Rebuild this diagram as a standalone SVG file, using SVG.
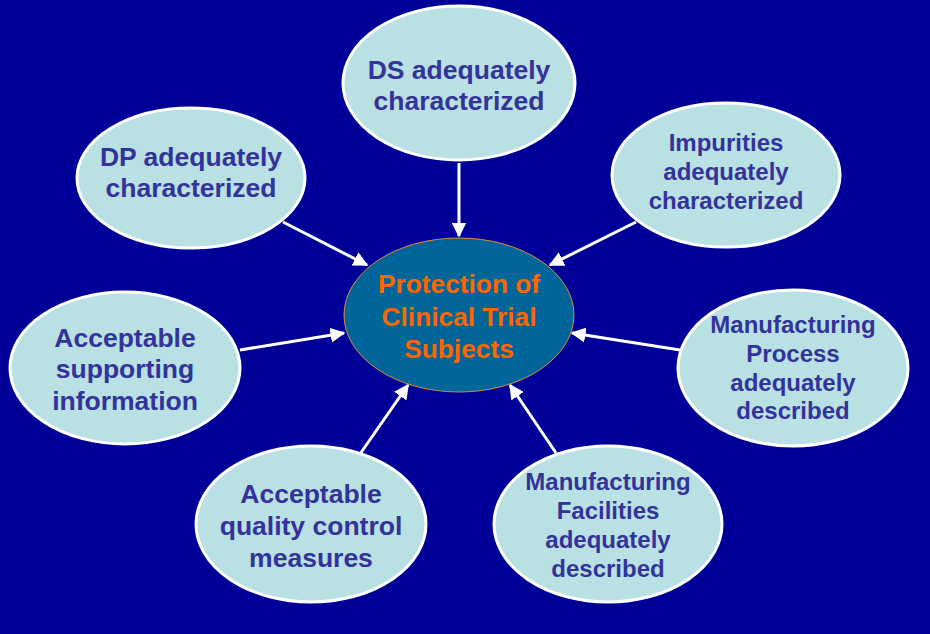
<svg xmlns="http://www.w3.org/2000/svg" width="930" height="634" viewBox="0 0 930 634">
<defs>
<style>
.n{fill:#B9E0E3;stroke:#FFFFFF;stroke-width:3}
.t{font-family:"Liberation Sans",Arial,sans-serif;font-weight:bold;fill:#333399;text-anchor:middle}
.L{font-size:26.5px}
.S{font-size:24px}
.c{fill:#006699;stroke:#E08A3C;stroke-width:1}
.ct{font-family:"Liberation Sans",Arial,sans-serif;font-weight:bold;fill:#FF6600;text-anchor:middle;font-size:26.3px}
.a{stroke:#FFFFFF;stroke-width:3;fill:none;marker-end:url(#ah)}
</style>
<marker id="ah" viewBox="0 0 10 10" refX="9" refY="5" markerWidth="5" markerHeight="5" orient="auto" markerUnits="strokeWidth">
<path d="M0,0 L10,5 L0,10 z" fill="#FFFFFF"/>
</marker>
</defs>
<rect width="930" height="634" fill="#000099"/>
<g id="connectors">
<line class="a" x1="459" y1="163" x2="459" y2="236"/>
<line class="a" x1="283" y1="222" x2="367" y2="265"/>
<line class="a" x1="636" y1="222" x2="550" y2="265"/>
<line class="a" x1="240" y1="350" x2="344" y2="333"/>
<line class="a" x1="680" y1="350" x2="572" y2="333"/>
<line class="a" x1="360" y1="454" x2="408" y2="385"/>
<line class="a" x1="556" y1="453" x2="510" y2="385"/>
</g>
<g id="center">
<ellipse class="c" cx="459" cy="315" rx="115" ry="77"/>
<text class="ct" x="459" y="293">Protection of</text>
<text class="ct" x="459" y="326">Clinical Trial</text>
<text class="ct" x="459" y="358">Subjects</text>
</g>
<g id="ds">
<ellipse class="n" cx="459" cy="83" rx="116" ry="77"/>
<text class="t L" x="459" y="79">DS adequately</text>
<text class="t L" x="459" y="110">characterized</text>
</g>
<g id="dp">
<ellipse class="n" cx="191" cy="178" rx="114" ry="70"/>
<text class="t L" x="191" y="166">DP adequately</text>
<text class="t L" x="191" y="197">characterized</text>
</g>
<g id="impurities">
<ellipse class="n" cx="726" cy="175" rx="114" ry="72"/>
<text class="t S" x="726" y="151">Impurities</text>
<text class="t S" x="726" y="180">adequately</text>
<text class="t S" x="726" y="209">characterized</text>
</g>
<g id="supporting">
<ellipse class="n" cx="125" cy="368" rx="115" ry="76"/>
<text class="t L" x="125" y="347">Acceptable</text>
<text class="t L" x="125" y="378">supporting</text>
<text class="t L" x="125" y="410">information</text>
</g>
<g id="process">
<ellipse class="n" cx="793" cy="368" rx="115" ry="78"/>
<text class="t S" x="793" y="333">Manufacturing</text>
<text class="t S" x="793" y="362">Process</text>
<text class="t S" x="793" y="391">adequately</text>
<text class="t S" x="793" y="419">described</text>
</g>
<g id="qc">
<ellipse class="n" cx="311" cy="524" rx="115" ry="78"/>
<text class="t L" x="311" y="503">Acceptable</text>
<text class="t L" x="311" y="535">quality control</text>
<text class="t L" x="311" y="567">measures</text>
</g>
<g id="facilities">
<ellipse class="n" cx="608" cy="524" rx="114" ry="78"/>
<text class="t S" x="608" y="490">Manufacturing</text>
<text class="t S" x="608" y="519">Facilities</text>
<text class="t S" x="608" y="548">adequately</text>
<text class="t S" x="608" y="577">described</text>
</g>
</svg>
